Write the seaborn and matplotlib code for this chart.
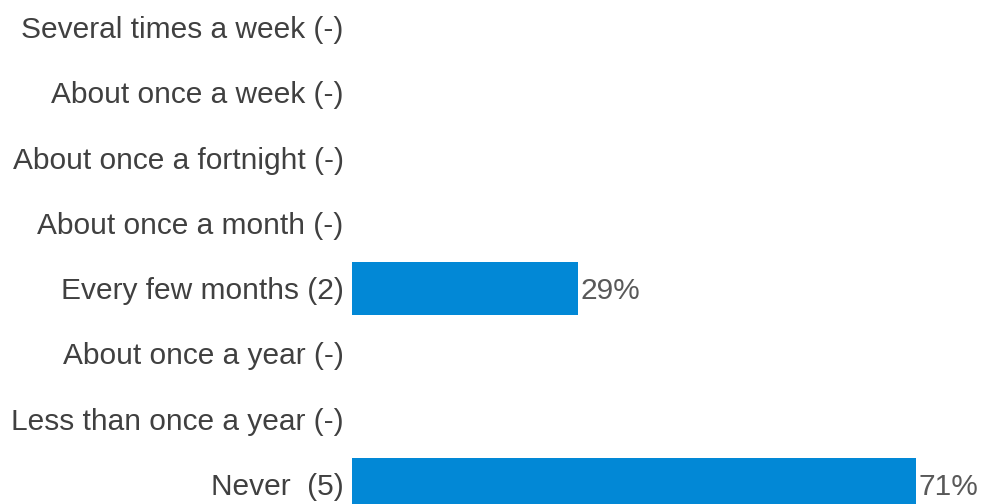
import matplotlib
matplotlib.use("Agg")
import matplotlib.pyplot as plt
import seaborn as sns
import pandas as pd

categories = ["Several times a week (-)", "About once a week (-)", "About once a fortnight (-)",
              "About once a month (-)", "Every few months (2)", "About once a year (-)",
              "Less than once a year (-)", "Never  (5)"]
values = [0, 0, 0, 0, 28.57, 0, 0, 71.43]
value_labels = ["", "", "", "", "29%", "", "", "71%"]

sns.set_theme(style="white")
plt.rcParams['font.family'] = ['Liberation Sans', 'DejaVu Sans']

df = pd.DataFrame({"cat": categories, "val": values})

fig = plt.figure(figsize=(9.82, 5.04), dpi=100)
ax = fig.add_axes([352/982, 0, 630/982, 1])
sns.barplot(data=df, y="cat", x="val", color="#0288D6", saturation=1, width=0.81,
            linewidth=0, ax=ax, orient="h")
ax.set_xlim(0, 630/7.9)
ax.set_ylim(7 + 20/65.29, -27/65.29)
ax.set_xlabel("")
ax.set_ylabel("")
ax.set_xticks([])
for s in ax.spines.values():
    s.set_visible(False)
ax.tick_params(axis="y", length=0, pad=6, labelsize=21.5, labelcolor="#404040")
for i, (v, lab) in enumerate(zip(values, value_labels)):
    if lab:
        ax.text(v + 0.3, i + 0.04, lab, va="center", ha="left", fontsize=21.5, color="#595959")
fig.savefig("out.png", dpi=100)
